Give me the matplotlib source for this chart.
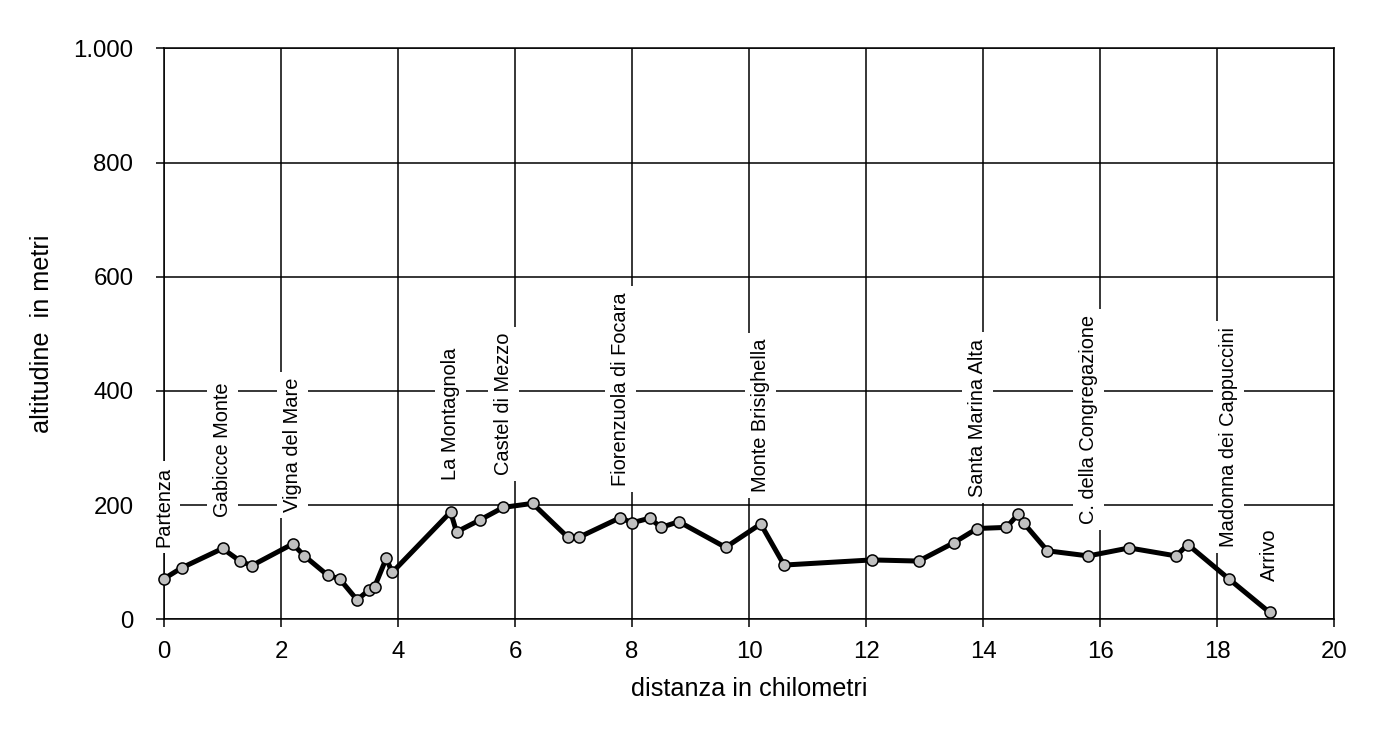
import matplotlib
matplotlib.use("Agg")
import matplotlib.pyplot as plt

plt.rcParams["font.family"] = ["Liberation Sans", "DejaVu Sans"]

# profilo altimetrico: distanza (km) e altitudine (m)
dist = [0.0, 0.3, 1.0, 1.3, 1.5, 2.2, 2.4, 2.8, 3.0, 3.3, 3.5, 3.6, 3.8, 3.9,
        4.9, 5.0, 5.4, 5.8, 6.3, 6.9, 7.1, 7.8, 8.0, 8.3, 8.5, 8.8, 9.6, 10.2,
        10.6, 12.1, 12.9, 13.5, 13.9, 14.4, 14.6, 14.7, 15.1, 15.8, 16.5, 17.3,
        17.5, 18.2, 18.9]
alt = [71, 90, 124, 102, 94, 132, 111, 77, 71, 34, 51, 57, 107, 82,
       188, 153, 174, 196, 203, 144, 144, 178, 169, 177, 161, 171, 126, 167,
       95, 104, 102, 134, 159, 161, 184, 168, 120, 111, 125, 111,
       131, 71, 12]

# località segnate sul percorso
place_names = ["Partenza", "Gabicce Monte", "Vigna del Mare", "La Montagnola",
               "Castel di Mezzo", "Fiorenzuola di Focara", "Monte Brisighella",
               "Santa Marina Alta", "C. della Congregazione",
               "Madonna dei Cappuccini", "Arrivo"]
place_km = [0.0, 1.0, 2.2, 4.9, 5.8, 7.8, 10.2, 13.9, 15.8, 18.2, 18.9]

x_ticks = [0, 2, 4, 6, 8, 10, 12, 14, 16, 18, 20]
y_ticks = [0, 200, 400, 600, 800, 1000]
y_tick_labels = ["0", "200", "400", "600", "800", "1.000"]

fig = plt.figure(figsize=(13.73, 7.45), dpi=100)
ax = fig.add_axes([0.11945, 0.16872, 0.85215, 0.76644])

ax.plot(dist, alt, color="black", lw=3.6, marker="o", ms=8, mfc="#c0c0c0",
        mec="black", mew=1.1, zorder=3, clip_on=False)

for name, km in zip(place_names, place_km):
    a = alt[dist.index(km)]
    ax.annotate(name, (km, a), xytext=(0, 23), textcoords="offset points",
                rotation=90, ha="center", va="bottom", fontsize=14.4,
                bbox=dict(boxstyle="square,pad=0.3", fc="white", ec="none"),
                zorder=4)

ax.set_xlim(0, 20)
ax.set_ylim(0, 1000)
ax.set_xticks(x_ticks)
ax.set_yticks(y_ticks)
ax.set_yticklabels(y_tick_labels)
ax.set_axisbelow(True)
ax.grid(True, color="black", lw=1.1)
for sp in ax.spines.values():
    sp.set_linewidth(1.1)
ax.tick_params(direction="out", length=5.5, width=1.1, labelsize=17.3)
ax.tick_params(axis="y", pad=16.5)
ax.tick_params(axis="x", pad=10.4)

ax.set_xlabel("distanza in chilometri", fontsize=18.2, labelpad=10)
ax.set_ylabel("altitudine  in metri", fontsize=18.2, labelpad=14)

fig.savefig("out.png", dpi=100)
